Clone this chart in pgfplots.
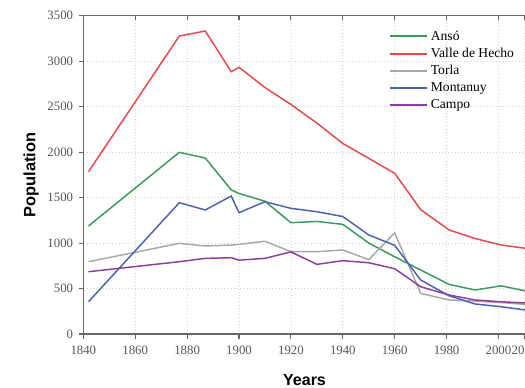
\documentclass[border=0pt]{standalone}
\usepackage{pgfplots}
\pgfplotsset{compat=1.18}
\usepackage{fontspec}
\setmainfont{Liberation Serif}
\newfontfamily\labfont{Liberation Sans}
\definecolor{cansa}{HTML}{3A9A5C}
\definecolor{cvalle}{HTML}{E8474C}
\definecolor{ctorla}{HTML}{A8A8A8}
\definecolor{cmont}{HTML}{4B62AE}
\definecolor{ccampo}{HTML}{8E3C9E}
\definecolor{caxis}{HTML}{666666}
\definecolor{ctick}{HTML}{555555}
\begin{document}
\begin{tikzpicture}
\begin{axis}[
  scale only axis,
  width=331.8pt, height=238.7pt,
  xmin=1840, xmax=2010.5, ymin=0, ymax=3500,
  axis lines*=left,
  axis line style={caxis, line width=0.8pt},
  tick style={caxis, line width=0.8pt},
  tick align=outside,
  major tick length=3.5pt,
  xtick={1840,1860,1880,1900,1920,1940,1960,1980,2000,2010},
  ytick={0,500,1000,1500,2000,2500,3000,3500},
  /pgf/number format/assume math mode=true,
  /pgf/number format/1000 sep={},
  ticklabel style={font=\rmfamily\fontsize{9.6}{11}\selectfont, text=ctick},
  xticklabel style={yshift=-4.5pt},
  yticklabel style={xshift=-3pt},
  tick label style={inner sep=1pt},
  grid=major,
  major grid style={dotted, gray!35, line width=0.5pt},
  xlabel={Years},
  ylabel={Population},
  xlabel style={font=\labfont\bfseries\fontsize{12}{14}\selectfont, yshift=-10pt},
  ylabel style={font=\labfont\bfseries\fontsize{12.3}{14}\selectfont, yshift=2pt},
]
\addplot[cansa, line width=1.1pt] coordinates {
(1842,1188) (1877,1998) (1887,1935) (1897,1585) (1900,1545) (1910,1460) (1920,1224)
(1930,1238) (1940,1206) (1950,1000) (1960,850) (1970,704) (1981,545) (1991,484)
(2001,530) (2011,470)};
\addplot[cvalle, line width=1.1pt] coordinates {
(1842,1785) (1877,3277) (1887,3332) (1897,2884) (1900,2933) (1910,2710) (1920,2525)
(1930,2320) (1940,2095) (1950,1932) (1960,1767) (1970,1368) (1981,1144) (1991,1050)
(2001,979) (2011,940)};
\addplot[ctorla, line width=1.1pt] coordinates {
(1842,795) (1877,997) (1887,968) (1897,978) (1900,986) (1910,1020) (1920,905)
(1930,905) (1940,924) (1950,818) (1960,1112) (1970,447) (1981,374) (1991,362)
(2001,345) (2011,325)};
\addplot[cmont, line width=1.1pt] coordinates {
(1842,355) (1877,1444) (1887,1364) (1897,1517) (1900,1334) (1910,1455) (1920,1382)
(1930,1345) (1940,1292) (1950,1089) (1960,975) (1970,594) (1981,420) (1991,330)
(2001,300) (2011,262)};
\addplot[ccampo, line width=1.1pt] coordinates {
(1842,685) (1877,795) (1887,832) (1897,839) (1900,812) (1910,832) (1920,903)
(1930,766) (1940,806) (1950,784) (1960,718) (1970,520) (1981,429) (1991,374)
(2001,355) (2011,340)};
\coordinate (O) at (axis cs:1840,0);
\end{axis}
\begin{axis}[
  scale only axis,
  width=331.8pt, height=238.7pt,
  xmin=1840, xmax=2010.5, ymin=0, ymax=3500,
  axis x line*=top, axis y line=none,
  axis line style={caxis, line width=0.8pt},
  tick style={caxis, line width=0.8pt},
  tick align=inside, major tick length=3.5pt,
  xtick={1840,1860,1880,1900,1920,1940,1960,1980,2000,2010},
  xticklabels={},
  legend style={at={(rel axis cs:0.69,0.962)}, anchor=north west, draw=none, fill=none,
    font=\rmfamily\fontsize{10.2}{12}\selectfont, inner sep=0pt, row sep=0.4pt},
  legend cell align=left,
  legend image code/.code={\path (0pt,0pt) -- (28pt,0pt); \draw[#1] (0pt,0pt) -- (23pt,0pt);},
]
\addlegendimage{color=cansa, line width=1.5pt}
\addlegendentry{Ansó}
\addlegendimage{color=cvalle, line width=1.5pt}
\addlegendentry{Valle de Hecho}
\addlegendimage{color=ctorla, line width=1.5pt}
\addlegendentry{Torla}
\addlegendimage{color=cmont, line width=1.5pt}
\addlegendentry{Montanuy}
\addlegendimage{color=ccampo, line width=1.5pt}
\addlegendentry{Campo}
\end{axis}
\pgfresetboundingbox
\path[use as bounding box] (O) ++(-62.5pt,-39.75pt) rectangle ++(393.75pt,290.25pt);
\end{tikzpicture}
\end{document}
